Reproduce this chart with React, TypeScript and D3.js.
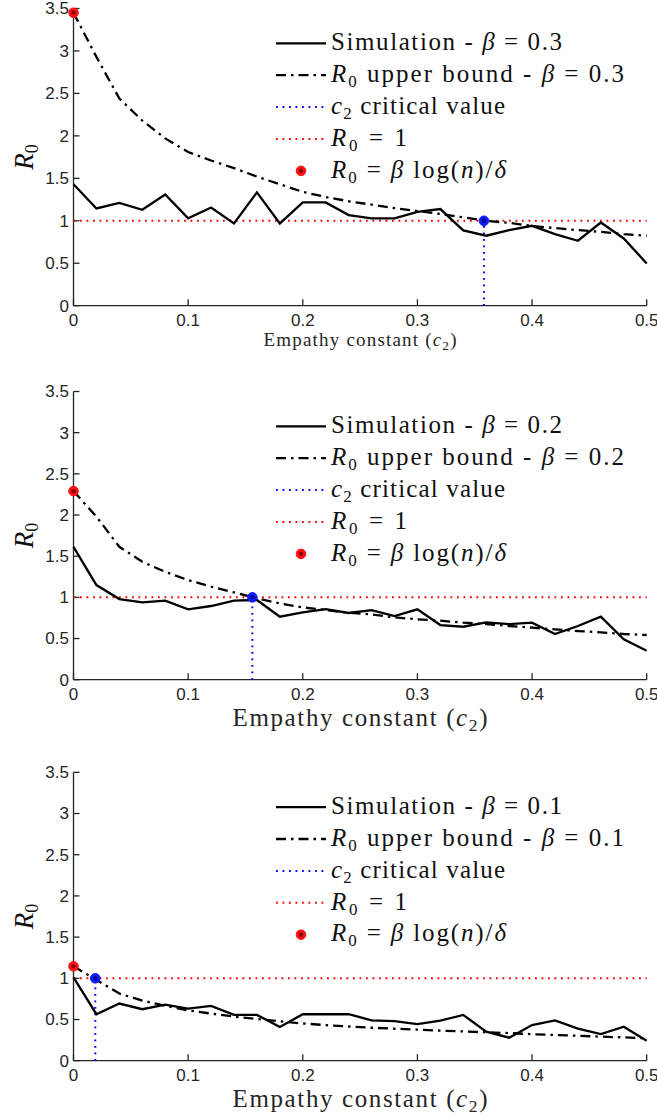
import React from 'react';
import * as d3 from 'd3';

// ---- data ----
const c2Values = [0, 0.02, 0.04, 0.06, 0.08, 0.1, 0.12, 0.14, 0.16, 0.18, 0.2, 0.22, 0.24, 0.26, 0.28, 0.3, 0.32, 0.34, 0.36, 0.38, 0.4, 0.42, 0.44, 0.46, 0.48, 0.5];

const simBeta03 = [1.43, 1.145, 1.21, 1.13, 1.31, 1.028, 1.157, 0.969, 1.334, 0.969, 1.216, 1.216, 1.067, 1.028, 1.028, 1.106, 1.138, 0.887, 0.824, 0.89, 0.941, 0.843, 0.765, 0.98, 0.792, 0.497];
const boundBeta03 = [3.45, 2.93, 2.44, 2.18, 1.97, 1.81, 1.71, 1.62, 1.52, 1.43, 1.34, 1.28, 1.23, 1.19, 1.15, 1.115, 1.08, 1.04, 1.0, 0.975, 0.94, 0.914, 0.89, 0.87, 0.843, 0.824];

const simBeta02 = [1.614, 1.149, 0.979, 0.939, 0.96, 0.854, 0.895, 0.96, 0.968, 0.765, 0.817, 0.858, 0.81, 0.845, 0.773, 0.854, 0.664, 0.643, 0.696, 0.676, 0.692, 0.555, 0.652, 0.765, 0.49, 0.352];
const boundBeta02 = [2.29, 1.98, 1.614, 1.432, 1.31, 1.21, 1.13, 1.06, 0.987, 0.927, 0.878, 0.846, 0.813, 0.793, 0.757, 0.733, 0.717, 0.692, 0.676, 0.652, 0.632, 0.611, 0.591, 0.575, 0.555, 0.543];

const simBeta01 = [1.01, 0.564, 0.694, 0.625, 0.681, 0.633, 0.665, 0.556, 0.556, 0.41, 0.564, 0.564, 0.565, 0.49, 0.48, 0.445, 0.485, 0.555, 0.352, 0.279, 0.433, 0.49, 0.39, 0.324, 0.413, 0.243];
const boundBeta01 = [1.145, 0.98, 0.815, 0.73, 0.665, 0.61, 0.572, 0.535, 0.505, 0.478, 0.452, 0.432, 0.415, 0.4, 0.388, 0.377, 0.365, 0.355, 0.345, 0.335, 0.322, 0.312, 0.302, 0.292, 0.283, 0.272];

const betaLabels = ['0.3', '0.2', '0.1'];
const criticalC2 = [0.358, 0.156, 0.019];
const r0AtZero = [3.45, 2.29, 1.145];

const xTicks = [0, 0.1, 0.2, 0.3, 0.4, 0.5];
const yTicks = [0, 0.5, 1, 1.5, 2, 2.5, 3, 3.5];

// ---- layout ----
const W = 657;
const H = 1118;
const AXIS = '#262626';
const SERIF = '"Liberation Serif", "Times New Roman", serif';
const SANS = '"Liberation Sans", Arial, Helvetica, sans-serif';

const panels = [
  { sim: simBeta03, bound: boundBeta03, yTop: 8.5, yBot: 305.7, xlabSize: 19, xlabLen: 193, xlabOff: 40 },
  { sim: simBeta02, bound: boundBeta02, yTop: 391.5, yBot: 679.7, xlabSize: 25, xlabLen: 255, xlabOff: 46 },
  { sim: simBeta01, bound: boundBeta01, yTop: 772.3, yBot: 1060.7, xlabSize: 25, xlabLen: 255, xlabOff: 46 },
];

const xScale = d3.scaleLinear().domain([0, 0.5]).range([73.5, 646.7]);

function Marker({ cx, cy, color, dark }: { cx: number; cy: number; color: string; dark: string }) {
  return (
    <g>
      <circle cx={cx} cy={cy} r={4.8} fill={color} stroke={color} strokeWidth={1} />
      <circle cx={cx} cy={cy} r={2.2} fill={dark} opacity={0.7} />
    </g>
  );
}

function Panel({ idx }: { idx: number }) {
  const p = panels[idx];
  const beta = betaLabels[idx];
  const yScale = d3.scaleLinear().domain([0, 3.5]).range([p.yBot, p.yTop]);
  const line = d3
    .line<number>()
    .x((_, i) => xScale(c2Values[i]))
    .y((d) => yScale(d));
  const x0 = xScale(0);
  const x1 = xScale(0.5);
  const crit = criticalC2[idx];

  const legX0 = 276;
  const legX1 = 326;
  const legText = 331;
  const rowY = (i: number) => p.yTop + 34.8 + i * 31.9;
  const lfs = 25;
  const subFs = 17;

  return (
    <g>
      {/* axes */}
      <line x1={x0} x2={x1} y1={p.yBot} y2={p.yBot} stroke={AXIS} strokeWidth={1.3} />
      <line x1={x0} x2={x0} y1={p.yBot} y2={p.yTop} stroke={AXIS} strokeWidth={1.3} />
      {xTicks.map((t) => (
        <g key={'x' + t}>
          <line x1={xScale(t)} x2={xScale(t)} y1={p.yBot} y2={p.yBot - 6.5} stroke={AXIS} strokeWidth={1.3} />
          <text x={xScale(t)} y={p.yBot + 20.5} textAnchor="middle" fontFamily={SANS} fontSize={17} fill={AXIS}>
            {String(t)}
          </text>
        </g>
      ))}
      {yTicks.map((t) => (
        <g key={'y' + t}>
          <line x1={x0} x2={x0 + 6} y1={yScale(t)} y2={yScale(t)} stroke={AXIS} strokeWidth={1.3} />
          <text x={x0 - 4.5} y={yScale(t)} dy="0.35em" textAnchor="end" fontFamily={SANS} fontSize={17} fill={AXIS}>
            {String(t)}
          </text>
        </g>
      ))}

      {/* y label */}
      <text
        transform={`translate(33, ${(p.yTop + p.yBot) / 2}) rotate(-90)`}
        textAnchor="middle"
        fontFamily={SERIF}
        fontSize={27}
        fill="#111"
      >
        <tspan fontStyle="italic">R</tspan>
        <tspan fontSize={18} dy={5}>0</tspan>
      </text>

      {/* x label */}
      <text
        x={360}
        y={p.yBot + p.xlabOff}
        textAnchor="middle"
        fontFamily={SERIF}
        fontSize={p.xlabSize}
        fill="#262626"
        textLength={p.xlabLen}
        lengthAdjust="spacing"
      >
        {'Empathy constant ('}
        <tspan fontStyle="italic">c</tspan>
        <tspan fontSize={p.xlabSize * 0.7} dy={p.xlabSize * 0.2}>2</tspan>
        <tspan dy={-p.xlabSize * 0.2}>{')'}</tspan>
      </text>

      {/* reference lines */}
      <line
        x1={x0}
        x2={x1}
        y1={yScale(1)}
        y2={yScale(1)}
        stroke="#ff0000"
        strokeWidth={2}
        strokeDasharray="1.8,4.7"
      />
      <line
        x1={xScale(crit)}
        x2={xScale(crit)}
        y1={yScale(0)}
        y2={yScale(1)}
        stroke="#0000ff"
        strokeWidth={2}
        strokeDasharray="1.8,4.7"
      />

      {/* series */}
      <path d={line(p.sim) || ''} fill="none" stroke="#000" strokeWidth={2.3} strokeLinejoin="miter" />
      <path d={line(p.bound) || ''} fill="none" stroke="#000" strokeWidth={2.3} strokeDasharray="10,5,2.5,5" />

      <Marker cx={xScale(0)} cy={yScale(r0AtZero[idx])} color="#ff1010" dark="#5a0000" />
      <Marker cx={xScale(crit)} cy={yScale(1)} color="#0a1aff" dark="#000060" />

      {/* legend */}
      <line x1={legX0} x2={legX1} y1={rowY(0)} y2={rowY(0)} stroke="#000" strokeWidth={2.3} />
      <text x={legText} y={rowY(0) + 6.7} fontFamily={SERIF} fontSize={lfs} fill="#111" textLength={231} lengthAdjust="spacing">
        {'Simulation - '}
        <tspan fontStyle="italic">β</tspan>
        {' = ' + beta}
      </text>

      <line x1={legX0} x2={legX1} y1={rowY(1)} y2={rowY(1)} stroke="#000" strokeWidth={2.3} strokeDasharray="10,5,2.5,5" />
      <text x={legText} y={rowY(1) + 6.7} fontFamily={SERIF} fontSize={lfs} fill="#111" textLength={293} lengthAdjust="spacing">
        <tspan fontStyle="italic">R</tspan>
        <tspan fontSize={subFs} dy={5}>0</tspan>
        <tspan dy={-5}>{' upper bound - '}</tspan>
        <tspan fontStyle="italic">β</tspan>
        {' = ' + beta}
      </text>

      <line x1={legX0} x2={legX1} y1={rowY(2)} y2={rowY(2)} stroke="#0000ff" strokeWidth={2} strokeDasharray="1.8,4.7" />
      <text x={legText} y={rowY(2) + 6.7} fontFamily={SERIF} fontSize={lfs} fill="#111" textLength={174} lengthAdjust="spacing">
        <tspan fontStyle="italic">c</tspan>
        <tspan fontSize={subFs} dy={5}>2</tspan>
        <tspan dy={-5}>{' critical value'}</tspan>
      </text>

      <line x1={legX0} x2={legX1} y1={rowY(3)} y2={rowY(3)} stroke="#ff0000" strokeWidth={2} strokeDasharray="1.8,4.7" />
      <text x={legText} y={rowY(3) + 6.7} fontFamily={SERIF} fontSize={lfs} fill="#111" textLength={76} lengthAdjust="spacing">
        <tspan fontStyle="italic">R</tspan>
        <tspan fontSize={subFs} dy={5}>0</tspan>
        <tspan dy={-5}>{' = 1'}</tspan>
      </text>

      <Marker cx={(legX0 + legX1) / 2} cy={rowY(4)} color="#ff1010" dark="#5a0000" />
      <text x={legText} y={rowY(4) + 6.7} fontFamily={SERIF} fontSize={lfs} fill="#111" textLength={175} lengthAdjust="spacing">
        <tspan fontStyle="italic">R</tspan>
        <tspan fontSize={subFs} dy={5}>0</tspan>
        <tspan dy={-5}>{' = '}</tspan>
        <tspan fontStyle="italic">β</tspan>
        {' log('}
        <tspan fontStyle="italic">n</tspan>
        {')/'}
        <tspan fontStyle="italic">δ</tspan>
      </text>
    </g>
  );
}

export default function App() {
  return (
    <svg
      width={W}
      height={H}
      viewBox={`0 0 ${W} ${H}`}
      style={{ position: 'absolute', left: 0, top: 0, background: '#fff' }}
    >
      <rect x={0} y={0} width={W} height={H} fill="#fff" />
      {panels.map((_, i) => (
        <Panel key={i} idx={i} />
      ))}
    </svg>
  );
}
